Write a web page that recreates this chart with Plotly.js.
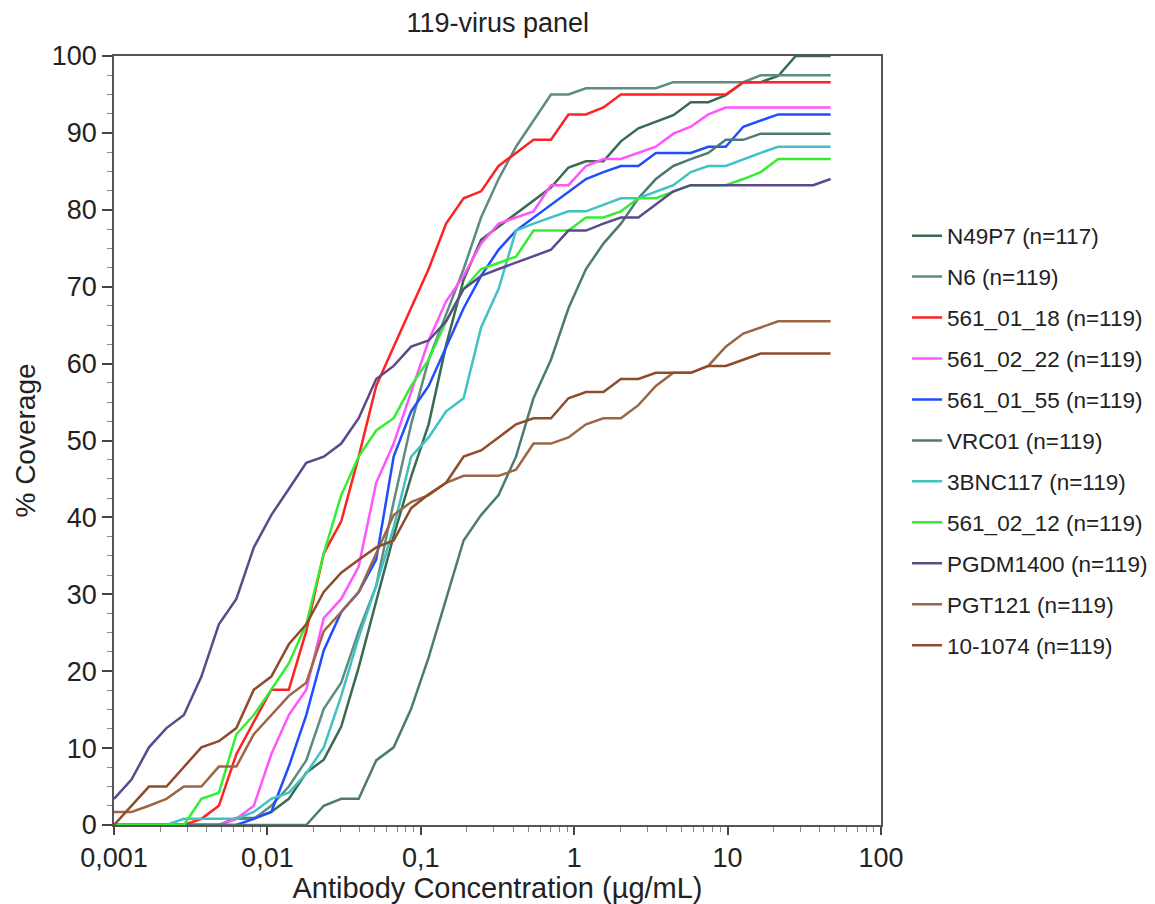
<!DOCTYPE html>
<html>
<head>
<meta charset="utf-8">
<script src="https://cdn.plot.ly/plotly-3.0.1.min.js"></script>
<style>html,body{margin:0;padding:0;background:#fff;}#chart{width:1155px;height:904px;}</style>
</head>
<body>
<div id="chart"></div>
<script>
// Antibody concentrations (µg/mL)
const conc = [0.001, 0.0013, 0.00169, 0.002197, 0.002856, 0.003713, 0.004827, 0.006275, 0.008157, 0.01060,
  0.01379, 0.01792, 0.02330, 0.03029, 0.03937, 0.05119, 0.06654, 0.08650, 0.1125, 0.1462,
  0.1901, 0.2471, 0.3212, 0.4175, 0.5428, 0.7056, 0.9173, 1.193, 1.550, 2.015,
  2.620, 3.406, 4.428, 5.756, 7.483, 9.728, 12.65, 16.44, 21.37, 27.78,
  36.12, 46.95];

const seriesNames = ["N49P7 (n=117)", "N6 (n=119)", "561_01_18 (n=119)", "561_02_22 (n=119)", "561_01_55 (n=119)",
  "VRC01 (n=119)", "3BNC117 (n=119)", "561_02_12 (n=119)", "PGDM1400 (n=119)", "PGT121 (n=119)", "10-1074 (n=119)"];

const N49P7 = [0,0,0,0,0,0,0,0.9,0.9,1.7, 3.4,6.8,8.5,12.8,20.5,29.1,37.6,45.3,52.1,62.4, 70.9,76.1,77.8,79.5,81.2,82.9,85.5,86.3,86.3,88.9, 90.6,91.5,92.3,94.0,94.0,94.9,96.6,96.6,97.4,100, 100,100];
const N6 = [0,0,0,0,0,0,0,0.8,0.8,2.5, 5.0,8.4,15.1,18.5,25.2,31.1,42.0,52.1,60.5,66.4, 72.3,79.0,84.0,88.2,91.6,95.0,95.0,95.8,95.8,95.8, 95.8,95.8,96.6,96.6,96.6,96.6,96.6,97.5,97.5,97.5, 97.5,97.5];
const mAb_561_01_18 = [0,0,0,0,0,0.8,2.5,9.2,13.4,17.6, 17.6,25.2,35.3,39.5,47.9,57.1,62.2,67.2,72.3,78.2, 81.5,82.4,85.7,87.4,89.1,89.1,92.4,92.4,93.3,95.0, 95.0,95.0,95.0,95.0,95.0,95.0,96.6,96.6,96.6,96.6, 96.6,96.6];
const mAb_561_02_22 = [0,0,0,0,0,0,0,0.8,2.5,9.2, 14.3,17.6,26.9,29.4,33.6,44.5,49.6,56.3,63.0,68.1, 71.4,75.6,78.2,79.0,79.8,83.2,83.2,85.7,86.6,86.6, 87.4,88.2,89.9,90.8,92.4,93.3,93.3,93.3,93.3,93.3, 93.3,93.3];
const mAb_561_01_55 = [0,0,0,0,0,0,0,0,0.8,1.7, 7.6,14.3,22.7,27.7,30.3,34.5,47.9,53.8,57.1,62.2, 67.2,71.4,74.8,77.3,79.0,80.7,82.4,84.0,84.9,85.7, 85.7,87.4,87.4,87.4,88.2,88.2,90.8,91.6,92.4,92.4, 92.4,92.4];
const VRC01 = [0,0,0,0,0,0,0,0,0,0, 0,0,2.5,3.4,3.4,8.4,10.1,15.1,21.8,29.4, 37.0,40.3,42.9,47.9,55.5,60.5,67.2,72.3,75.6,78.2, 81.5,84.0,85.7,86.6,87.4,89.1,89.1,89.9,89.9,89.9, 89.9,89.9];
const BNC117 = [0,0,0,0,0.8,0.8,0.8,0.8,1.7,3.4, 4.2,6.7,10.1,16.8,24.4,31.1,38.7,47.9,50.4,53.8, 55.5,64.7,69.7,77.3,78.2,79.0,79.8,79.8,80.7,81.5, 81.5,82.4,83.2,84.9,85.7,85.7,86.6,87.4,88.2,88.2, 88.2,88.2];
const mAb_561_02_12 = [0,0,0,0,0,3.4,4.2,11.8,14.3,17.6, 21.0,26.1,35.3,42.9,47.9,51.3,52.9,57.1,60.5,65.5, 69.7,72.3,73.1,73.9,77.3,77.3,77.3,79.0,79.0,79.8, 81.5,81.5,82.4,83.2,83.2,83.2,84.0,84.9,86.6,86.6, 86.6,86.6];
const PGDM1400 = [3.4,5.9,10.1,12.6,14.3,19.3,26.1,29.4,36.1,40.3, 43.7,47.1,47.9,49.6,52.9,58.0,59.7,62.2,63.0,65.5, 69.7,71.4,72.3,73.1,73.9,74.8,77.3,77.3,78.2,79.0, 79.0,80.7,82.4,83.2,83.2,83.2,83.2,83.2,83.2,83.2, 83.2,84.0];
const PGT121 = [1.7,1.7,2.5,3.4,5.0,5.0,7.6,7.6,11.8,14.3, 16.8,18.5,25.2,27.7,30.3,35.3,40.3,42.0,42.9,44.5, 45.4,45.4,45.4,46.2,49.6,49.6,50.4,52.1,52.9,52.9, 54.6,57.1,58.8,58.8,59.7,62.2,63.9,64.7,65.5,65.5, 65.5,65.5];
const mAb_10_1074 = [0,2.5,5.0,5.0,7.6,10.1,10.9,12.6,17.6,19.3, 23.5,26.1,30.3,32.8,34.5,36.1,37.0,41.2,43.0,44.5, 47.9,48.7,50.4,52.1,52.9,52.9,55.5,56.3,56.3,58.0, 58.0,58.8,58.8,58.8,59.7,59.7,60.5,61.3,61.3,61.3, 61.3,61.3];

const seriesValues = [N49P7, N6, mAb_561_01_18, mAb_561_02_22, mAb_561_01_55, VRC01, BNC117, mAb_561_02_12, PGDM1400, PGT121, mAb_10_1074];
const seriesColors = ["#3a6b4e", "#5f8c82", "#ff2222", "#ff55ff", "#1f4dff", "#4f7a73", "#40c2c2", "#33ee33", "#5a4a8a", "#9c6646", "#8e4c2a"];

const xTickVals = [0.001, 0.01, 0.1, 1, 10, 100];
const xTickText = ["0,001", "0,01", "0,1", "1", "10", "100"];
const xMinorTickVals = [0.002,0.003,0.004,0.005,0.006,0.007,0.008,0.009,
  0.02,0.03,0.04,0.05,0.06,0.07,0.08,0.09,
  0.2,0.3,0.4,0.5,0.6,0.7,0.8,0.9,
  2,3,4,5,6,7,8,9,
  20,30,40,50,60,70,80,90];
const yTickVals = [0,10,20,30,40,50,60,70,80,90,100];
const yMinorTickVals = [2.5,5,7.5,12.5,15,17.5,22.5,25,27.5,32.5,35,37.5,42.5,45,47.5,52.5,55,57.5,
  62.5,65,67.5,72.5,75,77.5,82.5,85,87.5,92.5,95,97.5];

const FONT = "Liberation Sans, Arial, Helvetica, sans-serif";

const traces = seriesNames.map((name, i) => ({
  type: "scatter",
  mode: "lines",
  name: name,
  legendgroup: "g" + i,
  x: conc,
  y: seriesValues[i],
  line: {color: seriesColors[i], width: 2.5},
  hoverinfo: "name+x+y"
}));

const layout = {
  width: 1155,
  height: 904,
  margin: {l: 114, r: 274, t: 56, b: 79, autoexpand: false},
  paper_bgcolor: "#ffffff",
  plot_bgcolor: "#ffffff",
  font: {family: FONT, color: "#222"},
  title: {text: "119-virus panel", font: {size: 27, family: FONT, color: "#222"}, x: 0.431, xanchor: "center", y: 0.975, yanchor: "middle"},
  showlegend: true,
  legend: {
    x: 1.034, xanchor: "left", y: 0.5, yanchor: "middle",
    font: {size: 22.5, family: FONT, color: "#222"},
    tracegroupgap: 8.7,
    bgcolor: "rgba(0,0,0,0)",
    itemwidth: 30
  },
  xaxis: {
    type: "log",
    range: [-3, 2],
    tickmode: "array",
    tickvals: xTickVals,
    ticktext: xTickText,
    ticks: "outside",
    ticklen: 8,
    tickwidth: 1.5,
    tickcolor: "#444",
    showline: true,
    linecolor: "#555",
    linewidth: 1.5,
    mirror: true,
    showgrid: false,
    zeroline: false,
    tickfont: {size: 27, family: FONT, color: "#222"},
    minor: {tickmode: "array", tickvals: xMinorTickVals, ticks: "outside", ticklen: 5, tickcolor: "#888", tickwidth: 1.2, showgrid: false},
    title: {text: "Antibody Concentration (µg/mL)", font: {size: 29, family: FONT, color: "#222"}, standoff: 5}
  },
  yaxis: {
    range: [0, 100],
    tickmode: "array",
    tickvals: yTickVals,
    ticks: "outside",
    ticklen: 10,
    tickwidth: 1.5,
    tickcolor: "#444",
    showline: true,
    linecolor: "#555",
    linewidth: 1.5,
    mirror: true,
    showgrid: false,
    zeroline: false,
    tickfont: {size: 27, family: FONT, color: "#222"},
    minor: {tickmode: "array", tickvals: yMinorTickVals, ticks: "outside", ticklen: 5, tickcolor: "#888", tickwidth: 1.2, showgrid: false},
    title: {text: "% Coverage", font: {size: 28, family: FONT, color: "#222"}, standoff: 8}
  }
};

Plotly.newPlot("chart", traces, layout, {displayModeBar: false, responsive: false});
</script>
</body>
</html>
